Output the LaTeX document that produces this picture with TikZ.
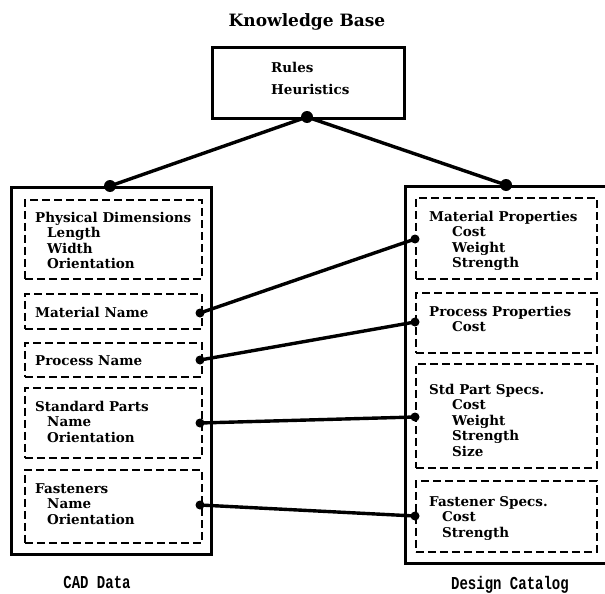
\documentclass[tikz,border=0pt]{standalone}
\usepackage{fontspec}
\setmainfont{DejaVu Serif}
\newfontfamily\capfont{Liberation Mono}
\begin{document}
\begin{tikzpicture}[x=1pt,y=-1pt,
  solidbox/.style={draw, line width=3.2pt, inner sep=0pt, anchor=north west},
  dbox/.style={draw, dash pattern=on 8pt off 4pt, line width=1.6pt, inner sep=0pt, anchor=north west},
  txt/.style={font=\bfseries\fontsize{13.5}{15.5}\selectfont, align=left, anchor=north west, inner sep=0pt},
  title/.style={font=\bfseries\fontsize{17}{19}\selectfont, inner sep=0pt},
  caption/.style={font=\capfont\bfseries\fontsize{14}{15}\selectfont, inner sep=0pt},
  bigdot/.style={circle, fill, inner sep=0pt, minimum size=12pt},
  smalldot/.style={circle, fill, inner sep=0pt, minimum size=9pt},
  link/.style={line width=3.4pt}]
\useasboundingbox (0,0) rectangle (605,594);

% Knowledge base
\node[title] (kbt) at (307,22) {Knowledge Base};
\node[solidbox, minimum width=192pt, minimum height=71pt] (kb) at (211,46) {};
\node[txt] (rules) at (271,61.15) {\strut Rules};
\node[txt] (heur) at (271,83.15) {\strut Heuristics};

% CAD data
\node[solidbox, minimum width=200pt, minimum height=367pt] (cad) at (10,186) {};
\node[dbox, minimum width=177pt, minimum height=79pt] (pd) at (24,199) {};
\node[dbox, minimum width=177pt, minimum height=35pt] (mn) at (24,293) {};
\node[dbox, minimum width=177pt, minimum height=34pt] (pn) at (24,342) {};
\node[dbox, minimum width=177pt, minimum height=70pt] (sp) at (24,387) {};
\node[dbox, minimum width=177pt, minimum height=73pt] (fa) at (24,469) {};
\node[txt] (pdt) at (35,211.15) {\strut Physical Dimensions\\\hspace*{12pt}Length\\\hspace*{12pt}Width\\\hspace*{12pt}Orientation};
\node[txt] (mnt) at (35,306.15) {\strut Material Name};
\node[txt] (pnt) at (35,354.15) {\strut Process Name};
\node[txt] (spt) at (35,400.15) {\strut Standard Parts\\\hspace*{12pt}Name\\\hspace*{12pt}Orientation};
\node[txt] (fat) at (35,482.15) {\strut Fasteners\\\hspace*{12pt}Name\\\hspace*{12pt}Orientation};
\node[caption] (cadt) at (97,582) {\scalebox{1}[1.3]{CAD Data}};

% Design catalog
\node[solidbox, minimum width=211pt, minimum height=377pt] (dc) at (404,185) {};
\node[dbox, minimum width=181pt, minimum height=81pt] (mp) at (415,197) {};
\node[dbox, minimum width=181pt, minimum height=60pt] (pp) at (415,292) {};
\node[dbox, minimum width=181pt, minimum height=104pt] (ss) at (415,363) {};
\node[dbox, minimum width=181pt, minimum height=71pt] (fs) at (415,480) {};
\node[txt] (mpt) at (429,210.15) {\strut Material Properties\\\hspace*{23pt}Cost\\\hspace*{23pt}Weight\\\hspace*{23pt}Strength};
\node[txt] (ppt) at (429,305.15) {\strut Process Properties\\\hspace*{23pt}Cost};
\node[txt] (sst) at (429,383.15) {\strut Std Part Specs.\\\hspace*{23pt}Cost\\\hspace*{23pt}Weight\\\hspace*{23pt}Strength\\\hspace*{23pt}Size};
\node[txt] (fst) at (429,495.15) {\strut Fastener Specs.\\\hspace*{13pt}Cost\\\hspace*{13pt}Strength};
\node[caption] (dct) at (510,585) {\scalebox{1}[1.3]{Design Catalog}};

% dots
\node[bigdot] (dkb) at (307,117) {};
\node[bigdot] (dcad) at (110,186) {};
\node[bigdot] (ddc) at (506,185) {};
\node[smalldot] (dmn) at (200,313) {};
\node[smalldot] (dpn) at (200,360) {};
\node[smalldot] (dsp) at (200,423) {};
\node[smalldot] (dfa) at (200,505) {};
\node[smalldot] (dmp) at (415,239) {};
\node[smalldot] (dpp) at (415,322) {};
\node[smalldot] (dss) at (415,417) {};
\node[smalldot] (dfs) at (415,516) {};

% links
\draw[link] (dkb.center) -- (dcad.center);
\draw[link] (dkb.center) -- (ddc.center);
\draw[link] (dmn.center) -- (dmp.center);
\draw[link] (dpn.center) -- (dpp.center);
\draw[link] (dsp.center) -- (dss.center);
\draw[link] (dfa.center) -- (dfs.center);
\end{tikzpicture}
\end{document}
